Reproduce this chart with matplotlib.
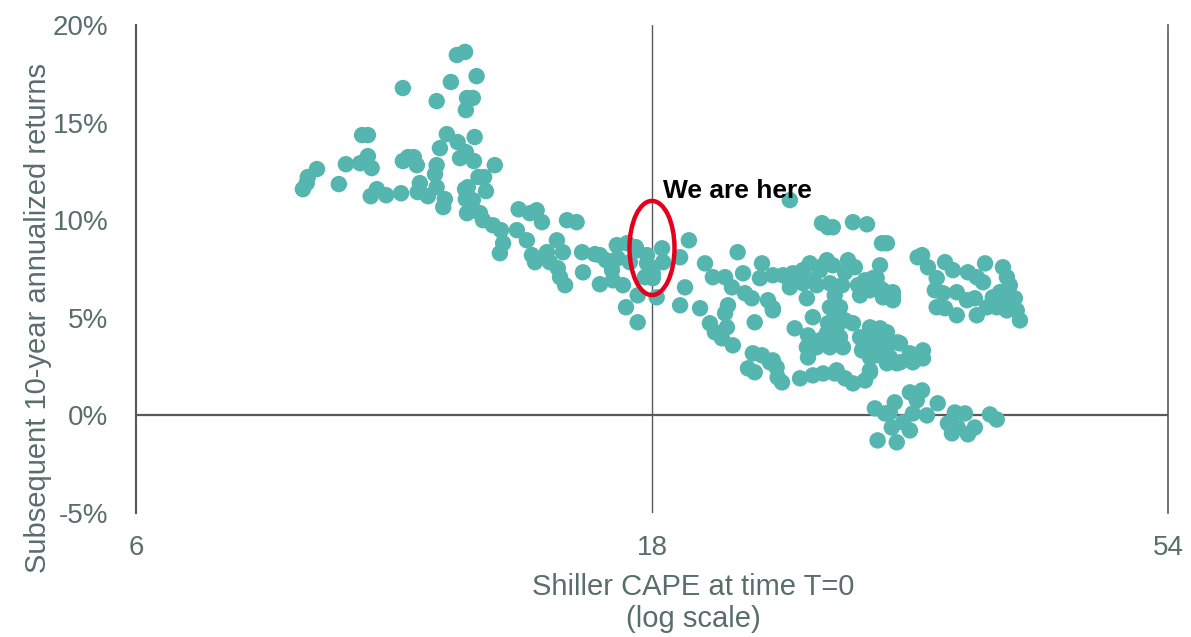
import matplotlib
matplotlib.use('Agg')
import matplotlib.pyplot as plt
from matplotlib.patches import Ellipse
from matplotlib.ticker import FuncFormatter, NullLocator

plt.rcParams['font.family'] = ['Liberation Sans', 'DejaVu Sans']

# Shiller CAPE at T=0 vs subsequent 10-yr annualized return (%)
cape = [
    # low CAPE / high return cluster
    11.88, 12.09, 12.39, 11.73, 10.59, 11.38, 12.14, 12.29, 12.11, 9.71,
    9.83, 11.63, 12.34, 11.90, 11.46, 12.11, 9.83, 9.67, 9.38, 9.91,
    10.59, 10.71, 10.84, 10.91, 11.38, 11.96, 12.32, 12.88, 8.82, 8.65,
    8.63, 8.56, 9.24, 11.34, 12.44, 12.59, 10.98, 11.38, 10.02, 9.89,
    10.22, 10.55, 10.93, 11.17, 12.09, 12.16, 12.64, 11.58, 11.54, 12.11,
    12.29, 12.14, 12.48, 12.56, 12.83, 13.05, 13.11, 13.02, 13.55, 13.50,
    # run down toward CAPE 18
    13.88, 14.08, 14.24, 13.79, 13.94, 14.03, 14.39, 14.70, 14.89, 14.48,
    14.73, 14.80, 14.96, 15.02, 15.33, 15.51, 15.94, 15.54, 16.11, 16.70,
    17.07, 16.53, 16.56, 16.92, 16.73, 17.17, 17.42, 17.81, 17.92, 17.73,
    18.03, 18.39, 18.43, 17.46, 18.18, 17.03, 17.46, 17.39, 16.32, 16.11,
    17.81, 18.03,
    # CAPE 19-26
    19.11, 19.47, 20.15, 20.49, 21.03, 21.34, 21.94, 22.26, 21.60, 21.85,
    19.31, 19.11, 19.94, 20.36, 20.58, 20.89, 21.38, 21.16, 21.03, 21.11,
    22.40, 23.04, 23.28, 22.75, 22.65, 23.28, 23.79, 24.29, 24.82, 25.19,
    25.74, 26.12, 26.45, 25.85, 26.45, 24.39, 25.09, 25.03, 25.56, 25.35,
    22.31, 22.75, 22.08, 22.40, 23.14, 23.52, 23.74, 24.67, 25.35, 25.91,
    26.56, 24.14,
    # dense cluster CAPE 24-32
    26.18, 27.61, 28.45, 29.37, 29.68, 31.69, 24.14, 25.74, 27.32, 27.72,
    28.33, 29.04, 29.25, 29.43, 30.06, 25.03, 28.03, 26.98, 26.29, 25.56,
    24.82, 24.14, 26.29, 26.86, 26.56, 26.18, 26.67, 27.15, 27.61, 26.12,
    25.74, 26.86, 28.03, 27.03, 26.29, 25.56, 25.09, 28.63, 29.25, 29.68,
    28.81, 29.25, 29.87, 30.52, 31.17, 31.63, 28.63, 30.31, 29.68, 28.15,
    26.67, 27.15, 27.61, 28.33, 28.63, 23.28, 23.47, 23.28, 25.35, 27.15,
    27.91, 28.63, 26.56,
    # near-zero returns
    28.93, 29.56, 30.18, 29.99, 31.17, 31.37, 31.17, 31.63, 29.10, 30.31,
    # high CAPE cluster
    31.99, 32.39, 33.59, 34.16, 33.00, 32.87, 33.45, 34.44, 33.00, 33.59,
    34.44, 35.27, 36.58, 36.42, 35.94, 38.00, 38.32, 38.56, 35.20, 35.79,
    35.94, 36.73, 37.19, 37.76, 37.50, 38.32, 38.97, 39.13, 39.40, 38.32,
    28.81, 29.25, 30.06, 30.06, 28.21, 29.43, 28.45, 28.21, 29.04, 29.04,
    29.68, 30.37, 32.05, 32.05, 31.37, 30.52, 28.63,
    31.99, 29.87, 32.32, 33.07, 30.72, 34.30, 35.05, 33.80, 34.51, 35.79,
    34.09, 35.27, 36.96, 37.50,
]
ret = [
    18.46, 18.62, 17.38, 17.08, 16.77, 16.10, 16.26, 16.26, 15.64, 14.36,
    14.36, 14.41, 14.26, 14.00, 13.69, 13.49, 13.28, 12.92, 12.87, 12.67,
    13.03, 13.23, 13.23, 12.82, 12.82, 13.18, 13.03, 12.82, 12.62, 12.21,
    11.90, 11.59, 11.85, 12.36, 12.21, 12.21, 11.90, 11.69, 11.59, 11.23,
    11.28, 11.38, 11.44, 11.23, 11.59, 11.69, 11.49, 11.08, 10.67, 11.08,
    11.03, 10.36, 10.36, 10.00, 9.74, 9.49, 8.82, 8.31, 10.56, 9.49,
    10.36, 10.51, 9.90, 8.97, 8.21, 7.85, 8.36, 8.97, 8.36, 7.85,
    7.54, 7.08, 6.67, 10.00, 9.90, 8.36, 8.26, 7.33, 6.72, 8.72,
    8.82, 7.44, 6.92, 6.67, 8.05, 7.85, 8.46, 8.21, 7.59, 7.08,
    7.03, 8.56, 7.85, 6.15, 6.05, 5.54, 4.77, 8.62, 7.95, 8.21,
    7.79, 7.28,
    8.10, 8.97, 7.79, 7.08, 7.08, 6.56, 6.26, 6.00, 8.36, 7.28,
    6.56, 5.64, 5.49, 4.72, 4.26, 3.95, 3.59, 5.64, 5.23, 4.51,
    4.77, 5.90, 5.49, 7.79, 7.03, 7.18, 7.18, 7.28, 7.44, 7.79,
    7.59, 7.95, 7.69, 9.85, 9.64, 4.46, 4.10, 3.49, 3.69, 5.03,
    3.18, 3.08, 2.41, 2.21, 2.72, 1.95, 1.69, 1.90, 2.05, 2.15,
    2.15, 11.03,
    9.64, 9.90, 9.79, 8.82, 8.82, 8.10, 6.92, 7.44, 7.95, 7.59,
    6.92, 7.03, 7.69, 6.41, 6.05, 6.00, 6.15, 6.67, 6.77, 6.67,
    6.77, 6.56, 5.54, 5.54, 5.03, 4.72, 4.51, 4.87, 4.72, 4.21,
    3.85, 4.00, 4.00, 3.49, 3.49, 3.49, 2.97, 4.51, 4.46, 4.26,
    3.85, 3.33, 2.97, 3.69, 3.18, 2.97, 2.97, 2.67, 2.67, 3.33,
    2.31, 1.90, 1.64, 1.79, 2.21, 2.82, 2.46, 5.38, 6.92, 7.33,
    6.67, 6.41, 6.15,
    0.36, 0.10, 0.67, -0.62, -0.77, 0.10, 1.18, 0.77, -1.28, -1.38,
    8.21, 7.59, 7.85, 7.44, 7.03, 6.41, 6.26, 6.31, 5.54, 5.49,
    5.13, 7.33, 7.79, 6.82, 7.08, 7.59, 7.08, 6.67, 5.90, 6.00,
    5.13, 5.54, 6.05, 6.31, 5.54, 5.90, 6.00, 5.38, 4.87, 5.38,
    7.03, 6.51, 6.31, 5.90, 6.67, 6.05, 3.85, 3.44, 3.69, 3.08,
    3.49, 3.74, 3.33, 2.92, 2.72, 2.72, 2.31,
    1.28, 0.15, 0.00, 0.62, -0.36, 0.15, 0.10, -0.41, -0.62, -0.62,
    -0.92, -0.97, 0.05, -0.21,
]

xticks = [6, 18, 54]
yticks = [-5, 0, 5, 10, 15, 20]
now_cape = 18
label_col = '#596E6C'
line_col = '#595959'

fig = plt.figure(figsize=(11.91, 6.37), dpi=100)
ax = fig.add_axes([136/1191, 1-513/637, 1032/1191, 488/637])

ax.scatter(cape, ret, s=140, color='#54B6AF', edgecolors='none', zorder=3)

ax.set_xscale('log')
ax.set_xlim(6, 54)
ax.set_ylim(-5, 20)
ax.set_xticks(xticks)
ax.set_xticklabels([str(t) for t in xticks])
ax.xaxis.set_minor_locator(NullLocator())
ax.set_yticks(yticks)
ax.yaxis.set_major_formatter(FuncFormatter(lambda v, p: '%d%%' % v))
ax.tick_params(axis='both', length=0, labelsize=20, labelcolor=label_col)
ax.tick_params(axis='x', pad=16)
ax.tick_params(axis='y', pad=20)

for s in ['top', 'bottom']:
    ax.spines[s].set_visible(False)
ax.spines['left'].set_color(line_col)
ax.spines['left'].set_linewidth(1.5)
ax.spines['right'].set_color(line_col)
ax.spines['right'].set_linewidth(1.2)
ax.axvline(now_cape, color=line_col, lw=1.0, zorder=1)
ax.axhline(0, color=line_col, lw=1.6, zorder=1)

# "we are here" marker
ax.add_patch(Ellipse((0.5, 0.543), 0.0436, 0.193, transform=ax.transAxes,
                     fill=False, edgecolor='#E5001E', lw=3.2, zorder=5))
ax.text(18.43, 11.13, 'We are here', fontsize=19, fontweight='bold',
        color='k', ha='left', va='baseline', zorder=6)

fig.text(38/1191, 1-318/637, 'Subsequent 10-year annualized returns',
         rotation=90, ha='center', va='center', fontsize=21, color=label_col)
fig.text(693/1191, 1-603/637, 'Shiller CAPE at time T=0\n(log scale)',
         ha='center', va='center', fontsize=21, color=label_col, linespacing=1.15)

plt.savefig('out.png', dpi=100)
